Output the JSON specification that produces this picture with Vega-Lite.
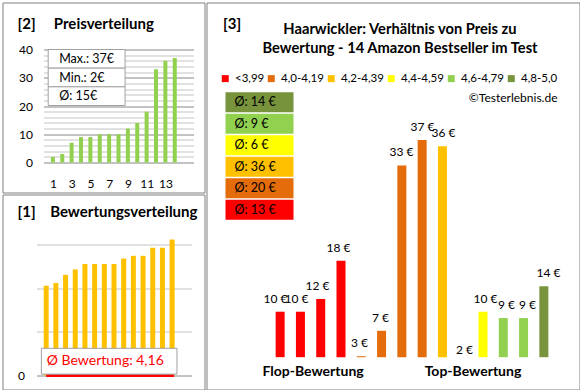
{
  "$schema": "https://vega.github.io/schema/vega-lite/v6.json",
  "padding": {"left": 1.5, "top": 1.5, "right": 0, "bottom": 0},
  "background": "white",
  "spacing": 0,
  "config": {
    "font": "Lato",
    "view": {"stroke": "#808080", "strokeWidth": 1},
    "locale": {"number": {"decimal": ",", "thousands": ".", "grouping": [3], "currency": ["", " €"]}},
    "axis": {"labelColor": "#000000", "labelFont": "Lato", "labelOverlap": false},
    "title": {"color": "#000000"}
  },
  "datasets": {
    "preise": [
      {"nr": 1, "preis": 2}, {"nr": 2, "preis": 3}, {"nr": 3, "preis": 7}, {"nr": 4, "preis": 9},
      {"nr": 5, "preis": 9}, {"nr": 6, "preis": 10}, {"nr": 7, "preis": 10}, {"nr": 8, "preis": 10},
      {"nr": 9, "preis": 12}, {"nr": 10, "preis": 14}, {"nr": 11, "preis": 18}, {"nr": 12, "preis": 33},
      {"nr": 13, "preis": 36}, {"nr": 14, "preis": 37}
    ],
    "produkte": [
      {"nr": 1, "preis": 10, "bewertung": 3.3, "kategorie": "<3,99"},
      {"nr": 2, "preis": 10, "bewertung": 3.4, "kategorie": "<3,99"},
      {"nr": 3, "preis": 12, "bewertung": 3.7, "kategorie": "<3,99"},
      {"nr": 4, "preis": 18, "bewertung": 3.9, "kategorie": "<3,99"},
      {"nr": 5, "preis": 3, "bewertung": 4.1, "kategorie": "4,0-4,19"},
      {"nr": 6, "preis": 7, "bewertung": 4.1, "kategorie": "4,0-4,19"},
      {"nr": 7, "preis": 33, "bewertung": 4.1, "kategorie": "4,0-4,19"},
      {"nr": 8, "preis": 37, "bewertung": 4.1, "kategorie": "4,0-4,19"},
      {"nr": 9, "preis": 36, "bewertung": 4.3, "kategorie": "4,2-4,39"},
      {"nr": 10, "preis": 2, "bewertung": 4.4, "kategorie": "4,4-4,59"},
      {"nr": 11, "preis": 10, "bewertung": 4.4, "kategorie": "4,4-4,59"},
      {"nr": 12, "preis": 9, "bewertung": 4.7, "kategorie": "4,6-4,79"},
      {"nr": 13, "preis": 9, "bewertung": 4.7, "kategorie": "4,6-4,79"},
      {"nr": 14, "preis": 14, "bewertung": 5.0, "kategorie": "4,8-5,0"}
    ],
    "preisbox": [{"zeile": "Max.: 37€"}, {"zeile": "Min.: 2€"}, {"zeile": "Ø: 15€"}],
    "schnitt": [{"durchschnitt": 4.16, "beschriftung": "Ø Bewertung: 4,16"}],
    "kategorien": [
      {"kategorie": "4,8-5,0", "schnitt": "Ø: 14 €"},
      {"kategorie": "4,6-4,79", "schnitt": "Ø: 9 €"},
      {"kategorie": "4,4-4,59", "schnitt": "Ø: 6 €"},
      {"kategorie": "4,2-4,39", "schnitt": "Ø: 36 €"},
      {"kategorie": "4,0-4,19", "schnitt": "Ø: 20 €"},
      {"kategorie": "<3,99", "schnitt": "Ø: 13 €"}
    ]
  },
  "hconcat": [
    {
      "vconcat": [
        {
          "width": 202,
          "height": 190,
          "title": {"text": "[2]\u00a0\u00a0\u00a0\u00a0\u00a0Preisverteilung", "anchor": "start", "frame": "group", "dx": 15, "offset": -36, "baseline": "middle", "fontSize": 15, "fontWeight": "bold"},
          "layer": [
            {
              "data": {"name": "preise"},
              "mark": {"type": "bar", "width": 4, "color": "#92D050"},
              "encoding": {
                "x": {"field": "nr", "type": "quantitative", "scale": {"domain": [0.5, 14.5], "range": [41, 191]},
                  "axis": {"values": [1, 3, 5, 7, 9, 11, 13], "format": "d", "labelOverlap": false, "labelFlush": false, "grid": false, "domain": false, "ticks": false, "orient": "bottom", "offset": -15, "labelPadding": 1, "labelFontSize": 12, "title": null}},
                "y": {"field": "preis", "type": "quantitative", "scale": {"domain": [0, 40], "range": [160, 47]},
                  "axis": {"values": [0, 2, 4, 6, 8, 10, 12, 14, 16, 18, 20, 22, 24, 26, 28, 30, 32, 34, 36, 38, 40], "format": "d", "labelOverlap": false,
                    "labelExpr": "datum.value % 10 === 0 ? datum.label : ''",
                    "grid": true, "gridColor": {"condition": {"test": "datum.value % 10 === 0", "value": "#868686"}, "value": "#c4c4c4"},
                    "domain": false, "ticks": false, "offset": -41, "labelPadding": 11, "labelFontSize": 12, "title": null}}
              }
            },
            {
              "data": {"name": "preisbox"},
              "layer": [
                {
                  "mark": {"type": "rect", "fill": "white", "stroke": "#a0a0a0", "strokeWidth": 1},
                  "encoding": {
                    "x": {"datum": 0.5, "type": "quantitative",
                      "axis": {"values": [1, 3, 5, 7, 9, 11, 13], "format": "d", "labelOverlap": false, "labelFlush": false, "grid": false, "domain": false, "ticks": false, "orient": "bottom", "offset": -15, "labelPadding": 1, "labelFontSize": 12, "title": null}},
                    "x2": {"datum": 8.7},
                    "y": {"field": "zeile", "type": "nominal", "sort": null, "scale": {"range": [47, 103], "paddingInner": 0, "paddingOuter": 0}, "axis": null}
                  }
                },
                {
                  "mark": {"type": "text", "align": "left", "dx": 11, "fontSize": 12.5, "color": "#000000"},
                  "encoding": {
                    "x": {"datum": 0.5, "type": "quantitative",
                      "axis": {"values": [1, 3, 5, 7, 9, 11, 13], "format": "d", "labelOverlap": false, "labelFlush": false, "grid": false, "domain": false, "ticks": false, "orient": "bottom", "offset": -15, "labelPadding": 1, "labelFontSize": 12, "title": null}},
                    "y": {"field": "zeile", "type": "nominal", "sort": null, "axis": null},
                    "text": {"field": "zeile"}
                  }
                }
              ]
            }
          ],
          "resolve": {"scale": {"y": "independent"}}
        },
        {
          "width": 202,
          "height": 195,
          "title": {"text": "[1]\u00a0\u00a0\u00a0\u00a0Bewertungsverteilung", "anchor": "start", "frame": "group", "dx": 15, "offset": -32.5, "baseline": "middle", "fontSize": 15, "fontWeight": "bold"},
          "layer": [
            {
              "data": {"name": "produkte"},
              "mark": {"type": "bar", "width": 5, "color": "#FFC000"},
              "encoding": {
                "x": {"field": "nr", "type": "quantitative", "scale": {"domain": [0.5, 14.5], "range": [34, 189]},
                  "axis": {"labels": false, "grid": false, "domain": false, "ticks": false, "title": null}},
                "y": {"field": "bewertung", "type": "quantitative", "scale": {"domain": [0, 5], "range": [181, 45]},
                  "axis": {"values": [0, 0.2, 0.4, 0.6, 0.8, 1, 1.2, 1.4, 1.6, 1.8, 2, 2.2, 2.4, 2.6, 2.8, 3, 3.2, 3.4, 3.6, 3.8, 4, 4.2, 4.4, 4.6, 4.8, 5], "format": "d", "labelOverlap": false,
                    "labelExpr": "datum.value % 1 === 0 ? datum.label : ''",
                    "grid": true, "gridColor": {"condition": {"test": "datum.value % 1 === 0", "value": "#868686"}, "value": "#c4c4c4"},
                    "domain": false, "ticks": false, "offset": -34, "labelPadding": 12, "labelFontSize": 12, "title": null}}
              }
            },
            {
              "data": {"name": "schnitt"},
              "layer": [
                {
                  "mark": {"type": "rule", "color": "#FF0000", "strokeWidth": 3},
                  "encoding": {
                    "y": {"field": "durchschnitt", "type": "quantitative", "axis": null},
                    "x": {"datum": 1, "type": "quantitative", "axis": {"labels": false, "grid": false, "domain": false, "ticks": false, "title": null}},
                    "x2": {"datum": 14.2}
                  }
                },
                {
                  "mark": {"type": "rect", "fill": "white", "stroke": "#a0a0a0", "strokeWidth": 1},
                  "encoding": {
                    "x": {"datum": 0.5, "type": "quantitative", "axis": {"labels": false, "grid": false, "domain": false, "ticks": false, "title": null}},
                    "x2": {"datum": 14.5},
                    "y": {"datum": 0.05, "type": "quantitative", "axis": null},
                    "y2": {"datum": 1}
                  }
                },
                {
                  "mark": {"type": "text", "color": "#FF0000", "fontSize": 14},
                  "encoding": {
                    "x": {"datum": 7.1, "type": "quantitative", "axis": {"labels": false, "grid": false, "domain": false, "ticks": false, "title": null}},
                    "y": {"datum": 0.55, "type": "quantitative", "axis": null},
                    "text": {"field": "beschriftung"}
                  }
                }
              ],
              "encoding": {
                "y": {"datum": 0, "type": "quantitative", "scale": {"domain": [0, 5], "range": [181, 45]}, "axis": null}
              }
            }
          ],
          "resolve": {"scale": {"y": "independent"}}
        }
      ],
      "spacing": 0
    },
    {
      "title": {"text": "[3]", "anchor": "start", "dx": 17, "offset": -37, "baseline": "middle", "fontSize": 15, "fontWeight": "bold"},
      "spacing": 0,
      "vconcat": [
        {
          "width": 373,
          "height": 387,
          "title": {"text": ["Haarwickler: Verhältnis von Preis zu", "Bewertung - 14 Amazon Bestseller im Test"], "anchor": "middle", "frame": "group", "dx": 7, "offset": -61.5, "baseline": "middle", "fontSize": 14.7, "fontWeight": "bold", "lineHeight": 19.5},
          "layer": [
            {
              "data": {"name": "produkte"},
              "mark": {"type": "bar", "width": 9},
              "encoding": {
                "x": {"field": "nr", "type": "quantitative", "scale": {"domain": [0.5, 14.5], "range": [58.5, 352.5]},
                  "axis": {"values": [2.6, 10.48], "labelExpr": "datum.value < 6 ? 'Flop-Bewertung' : 'Top-Bewertung'", "labelOverlap": false, "orient": "bottom", "offset": -28, "grid": false, "domain": false, "ticks": false, "labelPadding": 3, "labelFontSize": 14, "labelFontWeight": "bold", "title": null}},
                "y": {"field": "preis", "type": "quantitative", "scale": {"domain": [2.85, 40], "range": [354.7, 118.4], "clamp": true}, "axis": null},
                "y2": {"datum": 2.85},
                "color": {"field": "kategorie", "type": "nominal",
                  "scale": {"domain": ["<3,99", "4,0-4,19", "4,2-4,39", "4,4-4,59", "4,6-4,79", "4,8-5,0"], "range": ["#FF0000", "#E46C0A", "#FFC000", "#FFFF00", "#92D050", "#77933C"]},
                  "legend": {"orient": "none", "legendX": 217, "legendY": 70, "direction": "horizontal", "title": "©Testerlebnis.de", "titleOrient": "bottom", "titleAnchor": "end", "titleFontWeight": "normal", "titleFontSize": 12, "titlePadding": 8, "titleColor": "#000000", "symbolType": "square", "symbolSize": 49, "symbolStrokeWidth": 0, "symbolOpacity": 1, "labelFontSize": 11.5, "labelColor": "#000000", "labelOffset": 4, "columnPadding": 1}}
              }
            },
            {
              "data": {"name": "produkte"},
              "mark": {"type": "text", "baseline": "bottom", "dy": -6, "fontSize": 12, "color": "#000000"},
              "encoding": {
                "x": {"field": "nr", "type": "quantitative", "scale": {"domain": [0.5, 14.5], "range": [58.5, 352.5]}, "axis": null},
                "y": {"field": "preis", "type": "quantitative", "scale": {"domain": [2.85, 40], "range": [354.7, 118.4]}, "axis": null},
                "text": {"field": "preis", "type": "quantitative", "format": "$d"}
              }
            },
            {
              "data": {"name": "kategorien"},
              "layer": [
                {
                  "mark": {"type": "rect"},
                  "encoding": {
                    "x": {"datum": 0, "type": "quantitative", "scale": {"domain": [0, 1], "range": [19, 87]}, "axis": null},
                    "x2": {"datum": 1},
                    "y": {"field": "kategorie", "type": "nominal", "sort": null, "scale": {"range": [89, 218], "paddingInner": 0.08, "paddingOuter": 0.04}, "axis": null},
                    "color": {"field": "kategorie", "type": "nominal",
                      "scale": {"domain": ["<3,99", "4,0-4,19", "4,2-4,39", "4,4-4,59", "4,6-4,79", "4,8-5,0"], "range": ["#FF0000", "#E46C0A", "#FFC000", "#FFFF00", "#92D050", "#77933C"]}}
                  }
                },
                {
                  "mark": {"type": "text", "align": "left", "dx": 9, "fontSize": 12.5, "color": "#000000"},
                  "encoding": {
                    "x": {"datum": 0, "type": "quantitative", "axis": null},
                    "y": {"field": "kategorie", "type": "nominal", "sort": null, "axis": null},
                    "text": {"field": "schnitt"}
                  }
                }
              ]
            }
          ],
          "resolve": {"scale": {"x": "independent", "y": "independent"}}
        }
      ]
    }
  ]
}
